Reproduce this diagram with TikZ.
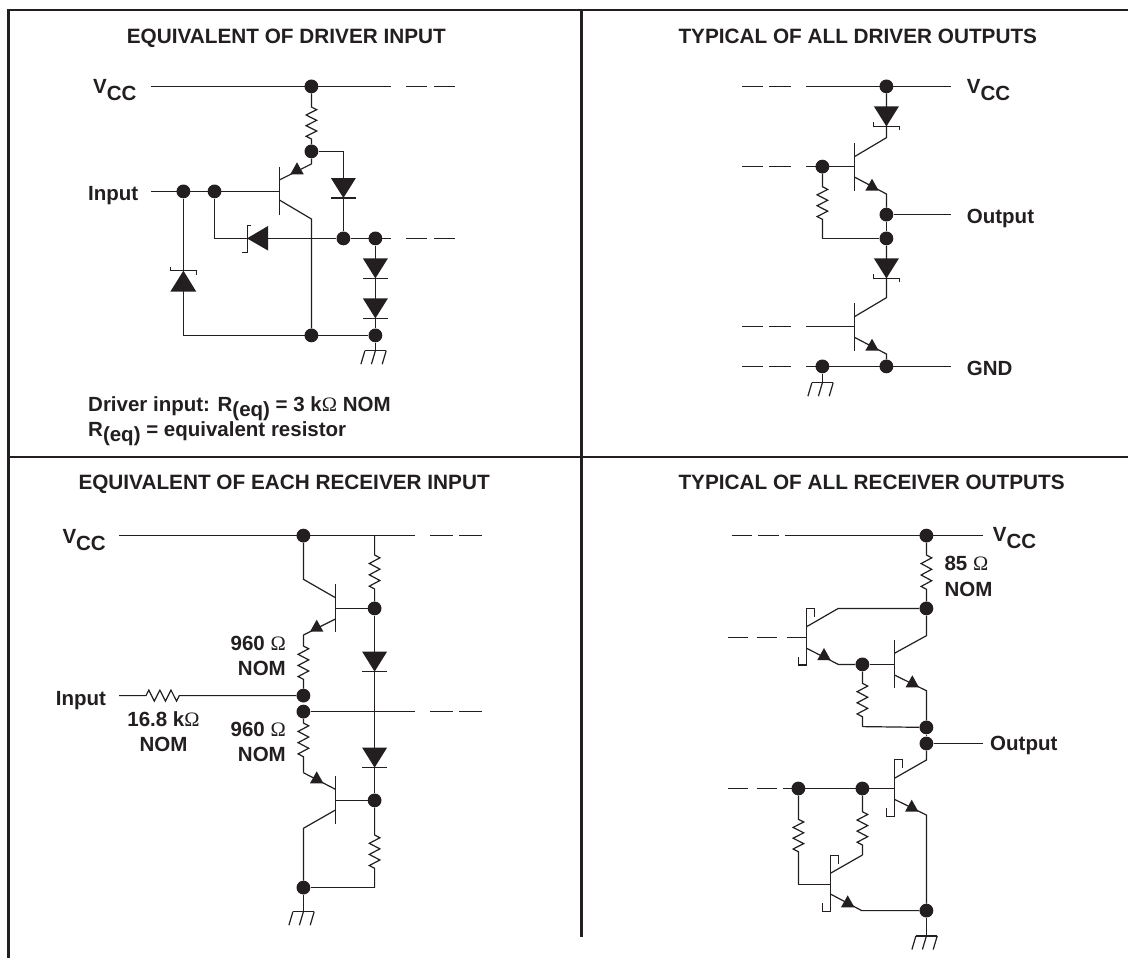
\documentclass[tikz,border=0pt]{standalone}
\usepackage{fontspec}
\setmainfont{Liberation Sans}
\newfontfamily\omfont{Liberation Serif}
\usetikzlibrary{calc}
\definecolor{ink}{HTML}{231F20}
\newcommand\vsub[1]{\raisebox{-7pt}{#1}}
\newcommand\rsub[1]{\raisebox{-5pt}{#1}}
\newcommand\Om{{\omfont\mdseries Ω}}
\tikzset{
  wire/.style={draw=ink,line width=1.2pt},
  frameline/.style={draw=ink,line width=2.6pt},
  jct/.style={circle,fill=ink,inner sep=0pt,minimum size=13.8pt},
  lbl/.style={inner sep=0pt,anchor=base west,text=ink,font=\fontsize{20.5}{24}\bfseries\selectfont},
  lblt/.style={lbl,font=\fontsize{20.75}{24}\bfseries\selectfont},
  lblr/.style={lbl,anchor=base east},
  lblc/.style={lbl,anchor=base},
}
% vertical resistor: from, to, y of start of zigzag, y of end of zigzag
\newcommand\resv[4]{%
  \coordinate (rs) at (#1 |- 0,#3);
  \coordinate (re) at (#1 |- 0,#4);
  \draw[wire] (#1) -- (rs)
    -- ($(rs)!.0833!(re)+(5.3,0)$) -- ($(rs)!.25!(re)+(-5.3,0)$)
    -- ($(rs)!.4167!(re)+(5.3,0)$) -- ($(rs)!.5833!(re)+(-5.3,0)$)
    -- ($(rs)!.75!(re)+(5.3,0)$) -- ($(rs)!.9167!(re)+(-5.3,0)$)
    -- (re) -- (#2);
}
% horizontal resistor
\newcommand\resh[4]{%
  \coordinate (rs) at (#3,0 |- #1);
  \coordinate (re) at (#4,0 |- #1);
  \draw[wire] (#1) -- (rs)
    -- ($(rs)!.0833!(re)+(0,-5.5)$) -- ($(rs)!.25!(re)+(0,5.5)$)
    -- ($(rs)!.4167!(re)+(0,-5.5)$) -- ($(rs)!.5833!(re)+(0,5.5)$)
    -- ($(rs)!.75!(re)+(0,-5.5)$) -- ($(rs)!.9167!(re)+(0,5.5)$)
    -- (re) -- (#2);
}
% downward diode with apex at x,y
\newcommand\ddown[2]{%
  \fill[ink] (#1-12.5,#2-20) -- (#1+12.5,#2-20) -- (#1,#2) -- cycle;
  \draw[wire] (#1-12.5,#2) -- (#1+12.5,#2);
}
% downward Schottky diode
\newcommand\sdown[2]{%
  \fill[ink] (#1-12.5,#2-20) -- (#1+12.5,#2-20) -- (#1,#2) -- cycle;
  \draw[wire] (#1-13,#2-4) -- (#1-13,#2) -- (#1+13,#2) -- (#1+13,#2+4);
}
% base bar
\newcommand\bbar[3]{\draw[wire] (#1,#2) -- (#1,#3);}
% base bar with Schottky hooks
\newcommand\sbar[3]{\draw[wire] (#1+8,#2+8.4) -- (#1+8,#2) -- (#1,#2) -- (#1,#3) -- (#1-8,#3) -- (#1-8,#3-8.4);}
% emitter arrow: centre x, base y
\newcommand\emtri[2]{\fill[ink] (#1-6.7,#2) -- (#1+6.7,#2) -- (#1,#2-12) -- cycle;}
% ground: node, y of bar
\newcommand\gnd[2]{%
  \coordinate (gt) at (#1 |- 0,#2);
  \draw[wire] (#1) -- (gt);
  \draw[wire] ($(gt)+(-10.5,0)$) -- ($(gt)+(10.8,0)$);
  \draw[wire] ($(gt)+(-10.5,0)$) -- ++(-4,13.5);
  \draw[wire] ($(gt)+(0,0)$) -- ++(-4,13.5);
  \draw[wire] ($(gt)+(10.8,0)$) -- ++(-4,13.5);
}
% dashed stub made of two dashes
\newcommand\dashes[5]{%
  \draw[wire] (#1,#5) -- (#2,#5);
  \draw[wire] (#3,#5) -- (#4,#5);
}
\begin{document}
\begin{tikzpicture}[x=1pt,y=-1pt]
\useasboundingbox (0,0) rectangle (1128,958);
\fill[white] (0,0) rectangle (1128,958);
% frame
\coordinate (fTL) at (8.5,10);
\coordinate (fTR) at (1128,10);
\coordinate (fBL) at (8.5,958);
\coordinate (fML) at (8.5,457);
\coordinate (fMR) at (1128,457);
\coordinate (fMT) at (581.7,10);
\coordinate (fMB) at (581.7,937.3);
\draw[frameline] (fBL) -- (fTL) -- (fTR);
\draw[frameline] (fML) -- (fMR);
\draw[frameline] (fMT) -- (fMB);

% titles
\node[lblt] (t1) at (126.7,43.3) {EQUIVALENT OF DRIVER INPUT};
\node[lblt] (t2) at (678.3,43.3) {TYPICAL OF ALL DRIVER OUTPUTS};
\node[lblt] (t3) at (78.3,489.3) {EQUIVALENT OF EACH RECEIVER INPUT};
\node[lblt] (t4) at (678.3,489.3) {TYPICAL OF ALL RECEIVER OUTPUTS};

%%%%%%% PANEL 1
\node[jct] (a1) at (311.4,86.4) {};
\node[jct] (a2) at (311.4,151.4) {};
\node[jct] (a3) at (183.4,191.4) {};
\node[jct] (a4) at (214.5,191.4) {};
\node[jct] (a5) at (343.4,238.4) {};
\node[jct] (a6) at (375.4,238.4) {};
\node[jct] (a7) at (311.4,335.4) {};
\node[jct] (a8) at (375.4,335.4) {};
\coordinate (aVl) at (151,86.4);
\coordinate (aVr) at (391,86.4);
\coordinate (aIl) at (151,191.4);
\coordinate (aB) at (279.4,191.4);
\coordinate (aE1) at (279.4,180);
\coordinate (aE2) at (311.4,164);
\coordinate (aC1) at (279.4,200);
\coordinate (aC2) at (311.4,219);
\coordinate (aT) at (343.4,151.4);
\coordinate (aR) at (391,238.4);
\coordinate (aL) at (214.5,238.4);
\coordinate (aK) at (183.4,335.4);
\draw[wire] (aVl) -- (aVr);
\dashes{406}{427}{434}{455}{86.4}
\resv{a1}{a2}{107}{139}
\draw[wire] (a2) -- (aT) -- (a5);
\ddown{343.4}{198}
\draw[wire] (aIl) -- (aB);
\bbar{279.4}{167}{215}
\draw[wire] (aE1) -- (aE2) -- (a2);
\emtri{297}{174.3}
\draw[wire] (aC1) -- (aC2) -- (a7);
\draw[wire] (a4) -- (aL) -- (a5);
\draw[wire] (a5) -- (aR);
\dashes{406}{427}{434}{455}{238.4}
\fill[ink] (268,226) -- (268,250.5) -- (247,238.4) -- cycle;
\draw[wire] (251,225.4) -- (247.4,225.4) -- (247.4,252.4) -- (242,252.4);
\draw[wire] (a3) -- (aK) -- (a8);
\fill[ink] (170.3,291.7) -- (196.3,291.7) -- (183.4,270.7) -- cycle;
\draw[wire] (170.4,266.7) -- (170.4,270.7) -- (196.5,270.7) -- (196.5,275);
\draw[wire] (a6) -- (a8);
\ddown{375.4}{278.4}
\ddown{375.4}{318.4}
\gnd{a8}{350.7}

\node[lbl] (vcc1) at (93,93) {V\vsub{CC}};
\node[lbl] (inp1) at (88,200) {Input};
\node[lbl] (drv) at (88,411) {Driver input: R\rsub{(eq)} = 3 k\Om{} NOM};
\node[lbl] (req) at (88,436) {R\rsub{(eq)} = equivalent resistor};

%%%%%%% PANEL 2
\node[jct] (b1) at (886.4,86.4) {};
\node[jct] (b2) at (822.4,166.6) {};
\node[jct] (b3) at (886.4,214.6) {};
\node[jct] (b4) at (886.4,238.4) {};
\node[jct] (b5) at (822.4,366.4) {};
\node[jct] (b6) at (886.4,366.4) {};
\coordinate (bVl) at (806,86.4);
\coordinate (bVr) at (950.7,86.4);
\coordinate (bC1) at (886.4,137.7);
\coordinate (bC1b) at (854.4,156.7);
\coordinate (bBl) at (806,166.6);
\coordinate (bBr) at (854.4,166.6);
\coordinate (bE1) at (854.4,177);
\coordinate (bE2) at (886.4,194);
\coordinate (bO) at (950.7,214.6);
\coordinate (bRc) at (822.4,238.4);
\coordinate (bC2) at (886.4,297.7);
\coordinate (bC2b) at (854.4,316.7);
\coordinate (bB2l) at (806,326.6);
\coordinate (bB2r) at (854.4,326.6);
\coordinate (bE3) at (854.4,337.3);
\coordinate (bE4) at (886.4,354);
\coordinate (bGl) at (806,366.4);
\coordinate (bGr) at (950.7,366.4);
\draw[wire] (bVl) -- (bVr);
\dashes{742}{763}{769}{791}{86.4}
\draw[wire] (b1) -- (bC1) -- (bC1b);
\sdown{886.4}{126.4}
\bbar{854.4}{142.7}{190.7}
\draw[wire] (bBl) -- (bBr);
\dashes{742}{763}{769}{791}{166.6}
\draw[wire] (bE1) -- (bE2) -- (b3);
\emtri{872}{190.7}
\draw[wire] (b3) -- (bO);
\draw[wire] (b3) -- (b4);
\resv{b2}{bRc}{186.7}{219.3}
\draw[wire] (bRc) -- (b4);
\draw[wire] (b4) -- (bC2) -- (bC2b);
\sdown{886.4}{278.4}
\bbar{854.4}{302.7}{350.7}
\draw[wire] (bB2l) -- (bB2r);
\dashes{742}{763}{769}{791}{326.6}
\draw[wire] (bE3) -- (bE4) -- (b6);
\emtri{872}{350.7}
\draw[wire] (bGl) -- (bGr);
\dashes{742}{763}{769}{791}{366.4}
\gnd{b5}{382.7}

\node[lbl] (vcc2) at (966.7,93) {V\vsub{CC}};
\node[lbl] (out2) at (966.7,223) {Output};
\node[lbl] (gnd2) at (966.7,375) {GND};

%%%%%%% PANEL 3
\node[jct] (c1) at (303.4,535.6) {};
\node[jct] (c2) at (374.6,608.4) {};
\node[jct] (c3) at (303.4,695.6) {};
\node[jct] (c4) at (303.4,711.6) {};
\node[jct] (c5) at (374.6,800.4) {};
\node[jct] (c6) at (303.4,887.6) {};
\coordinate (cVl) at (119,535.6);
\coordinate (cVr) at (415,535.6);
\coordinate (cT) at (374.6,535.6);
\coordinate (cC1) at (303.4,579.3);
\coordinate (cC1b) at (335.4,597.7);
\coordinate (cB1) at (335.4,608.4);
\coordinate (cE1) at (335.4,619);
\coordinate (cE2) at (303.4,635);
\coordinate (cIl) at (119,695.6);
\coordinate (cMr) at (415,711.6);
\coordinate (cE3) at (303.4,772.7);
\coordinate (cE4) at (335.4,789.3);
\coordinate (cB2) at (335.4,800.4);
\coordinate (cC2) at (335.4,810);
\coordinate (cC2b) at (303.4,828.3);
\coordinate (cBt) at (374.6,887.6);
\draw[wire] (cVl) -- (cVr);
\dashes{430}{453}{459}{482}{535.6}
\resv{cT}{c2}{555}{589}
\draw[wire] (c1) -- (cC1) -- (cC1b);
\bbar{335.4}{584.3}{632.3}
\draw[wire] (cB1) -- (c2);
\draw[wire] (cE1) -- (cE2);
\emtri{316.7}{631.7}
\resv{cE2}{c3}{646}{679.3}
\draw[wire] (c2) -- (c5);
\ddown{374.6}{671.6}
\ddown{374.6}{767.6}
\resh{cIl}{c3}{146}{179.3}
\draw[wire] (c4) -- (cMr);
\dashes{430}{453}{459}{482}{711.6}
\resv{c4}{cE3}{723}{756.7}
\draw[wire] (cE3) -- (cE4);
\emtri{316.7}{783.3}
\bbar{335.4}{775.7}{824}
\draw[wire] (cB2) -- (c5);
\draw[wire] (cC2) -- (cC2b) -- (c6);
\resv{c5}{cBt}{835}{868.3}
\draw[wire] (cBt) -- (c6);
\gnd{c6}{911.7}

\node[lbl] (vcc3) at (62.3,543) {V\vsub{CC}};
\node[lbl] (inp3) at (55.7,705) {Input};
\node[lblc] (r1a) at (163.5,726.7) {16.8 k\Om};
\node[lblc] (r1b) at (163.5,751.7) {NOM};
\node[lblr] (r2a) at (286,650) {960 \Om};
\node[lblr] (r2b) at (286,675.7) {NOM};
\node[lblr] (r3a) at (286,736) {960 \Om};
\node[lblr] (r3b) at (286,761.7) {NOM};

%%%%%%% PANEL 4
\node[jct] (d1) at (926.4,535.6) {};
\node[jct] (d2) at (926.4,608.4) {};
\node[jct] (d3) at (862.4,664.4) {};
\node[jct] (d4) at (926.4,727.4) {};
\node[jct] (d5) at (926.4,743.5) {};
\node[jct] (d6) at (862.4,788.5) {};
\node[jct] (d7) at (798.4,788.5) {};
\node[jct] (d8) at (926.4,910.6) {};
\coordinate (dVl) at (785,535.6);
\coordinate (dVr) at (983,535.6);
\coordinate (dC1a) at (838.3,608.4);
\coordinate (dC1b) at (806.6,626.7);
\coordinate (dB1l) at (786.7,637.4);
\coordinate (dB1r) at (806.6,637.4);
\coordinate (dE1) at (806.6,648.3);
\coordinate (dE2) at (838.3,664.4);
\coordinate (dB2) at (894.4,664.4);
\coordinate (dC2a) at (926.4,635.7);
\coordinate (dC2b) at (894.4,653.3);
\coordinate (dE3) at (894.4,675);
\coordinate (dE4) at (926.4,690.7);
\coordinate (dRc) at (862.4,726.6);
\coordinate (dO) at (983.3,743.5);
\coordinate (dC3a) at (926.4,760);
\coordinate (dC3b) at (894.4,778.3);
\coordinate (dB3l) at (783.3,788.5);
\coordinate (dB3r) at (894.4,788.5);
\coordinate (dE5) at (894.4,799.3);
\coordinate (dE6) at (926.4,815);
\coordinate (dRl) at (798.4,884.4);
\coordinate (dB4) at (830.4,884.4);
\coordinate (dRr) at (862.4,855);
\coordinate (dC4) at (830.4,873.3);
\coordinate (dE7) at (830.4,894);
\coordinate (dE8) at (861.7,910.6);
\draw[wire] (dVl) -- (dVr);
\dashes{731.5}{752}{758}{778.5}{535.6}
\resv{d1}{d2}{555}{589.3}
\draw[wire] (d2) -- (dC1a) -- (dC1b);
\sbar{806.6}{608.4}{665}
\draw[wire] (dB1l) -- (dB1r);
\dashes{728.3}{748.3}{756.7}{776.7}{637.4}
\draw[wire] (dE1) -- (dE2) -- (d3);
\emtri{824}{660}
\draw[wire] (d3) -- (dB2);
\bbar{894.4}{640}{688.3}
\draw[wire] (d2) -- (dC2a) -- (dC2b);
\draw[wire] (dE3) -- (dE4) -- (d4);
\emtri{912.3}{687.3}
\resv{d3}{dRc}{683.3}{716.7}
\draw[wire] (dRc) -- (d4);
\draw[wire] (d4) -- (d5);
\draw[wire] (d5) -- (dO);
\draw[wire] (d5) -- (dC3a) -- (dC3b);
\sbar{894.4}{759.4}{816.6}
\draw[wire] (dB3l) -- (dB3r);
\dashes{728.3}{748.3}{756.7}{777}{788.5}
\draw[wire] (dE5) -- (dE6) -- (d8);
\emtri{911.7}{811.7}
\resv{d7}{dRl}{819.3}{851.7}
\draw[wire] (dRl) -- (dB4);
\resv{d6}{dRr}{811.7}{845}
\draw[wire] (dRr) -- (dC4);
\sbar{830.4}{855.4}{911.6}
\draw[wire] (dE7) -- (dE8) -- (d8);
\emtri{847.7}{907.3}
\gnd{d8}{936}

\node[lbl] (vcc4) at (992.7,541) {V\vsub{CC}};
\node[lbl] (r4a) at (944.3,570.7) {85 \Om};
\node[lbl] (r4b) at (944.3,596) {NOM};
\node[lbl] (out4) at (990,750) {Output};
\end{tikzpicture}
\end{document}
